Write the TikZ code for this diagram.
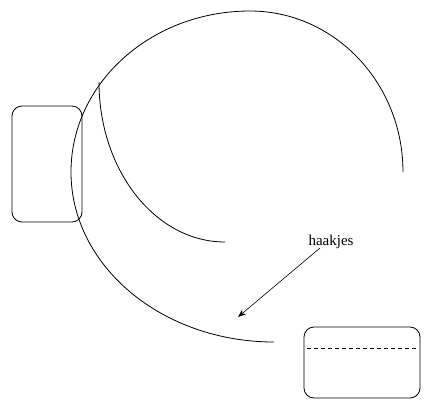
\documentclass[tikz,border=0pt]{standalone}
\usepackage{fontspec}
\setmainfont{Liberation Serif}
\usetikzlibrary{arrows.meta}
\begin{document}
\begin{tikzpicture}[x=1pt,y=-1pt,
  line/.style={line width=0.8pt,black},
  box/.style={line,rounded corners=10pt},
  arr/.style={line width=0.6pt,-{Stealth[length=8pt,width=6pt]}},
  lab/.style={font=\fontsize{15}{17}\selectfont,inner sep=0pt}]
\useasboundingbox (0,0) rectangle (432,408);
% big arc
\draw[line] (403,172)
  arc[start angle=0,end angle=-90,x radius=153,y radius=161]
  arc[start angle=-90,end angle=-180,x radius=179,y radius=161]
  arc[start angle=180,end angle=90,x radius=203,y radius=170];
% inner arc
\draw[line] (99,82) arc[start angle=180,end angle=90,x radius=126,y radius=160];
% boxes
\draw[box] (12,106) rectangle (82,222);
\draw[box] (304,327) rectangle (420,398);
\draw[line,dashed,dash pattern=on 4pt off 3pt] (307,348) -- (417,348);
% label and arrow
\node[lab] (lbl) at (331,242) {haakjes};
\coordinate (tip) at (238,317);
\draw[arr] ([xshift=-11pt,yshift=1pt]lbl.south) -- (tip);
\end{tikzpicture}
\end{document}
